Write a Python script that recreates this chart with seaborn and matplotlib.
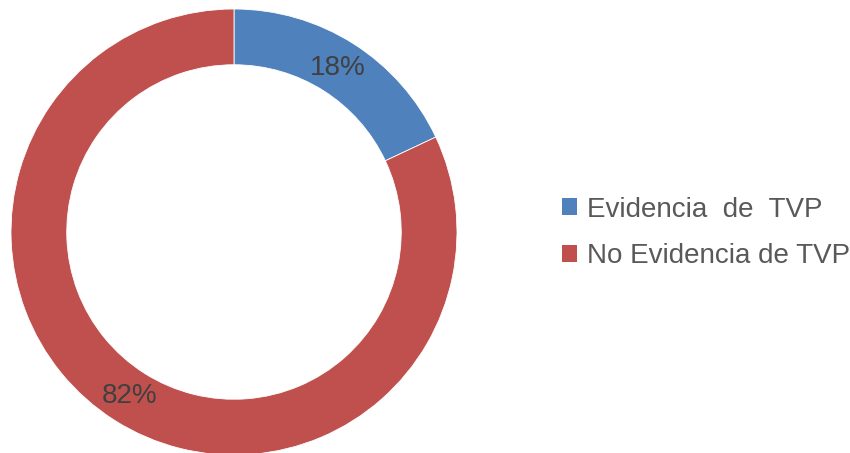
import matplotlib
matplotlib.use("Agg")
import matplotlib.pyplot as plt
from matplotlib.patches import Patch
import seaborn as sns

# Data
labels = ["Evidencia  de  TVP", "No Evidencia de TVP"]
values = [18, 82]
colors = ["#4F81BD", "#C0504D"]

sns.set_theme(style="white")
plt.rcParams["font.family"] = ["Liberation Sans", "DejaVu Sans"]

fig = plt.figure(figsize=(8.5, 4.53), dpi=100)
ax = fig.add_axes([11 / 850, -2 / 453, 446 / 850, 446 / 453])

wedges, texts, autotexts = ax.pie(
    values, colors=colors, startangle=90, counterclock=False,
    autopct="%1.0f%%", pctdistance=0.87, radius=1,
    wedgeprops=dict(width=0.25, edgecolor="white", linewidth=0.6),
    textprops=dict(fontsize=20, color="#404040"),
)
ax.set_xlim(-1, 1)
ax.set_ylim(-1, 1)
ax.set_aspect("equal")
ax.axis("off")

handles = [Patch(facecolor=c, edgecolor="none") for c in colors]
fig.legend(handles, labels, loc="center left", bbox_to_anchor=(562 / 850, 1 - 233 / 453),
           frameon=False, fontsize=20, labelcolor="#595959",
           handlelength=0.55, handleheight=0.55, handletextpad=0.35,
           labelspacing=0.75, borderpad=0, borderaxespad=0)

fig.savefig("out.png", dpi=100)
